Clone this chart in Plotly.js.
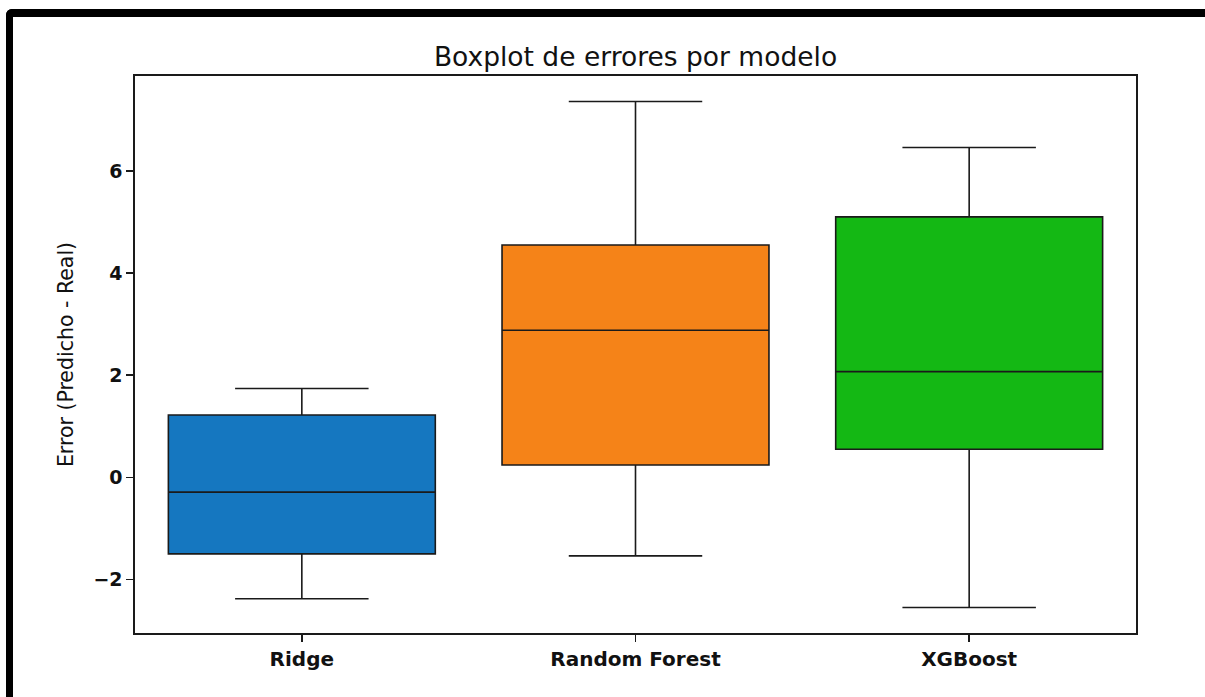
<!DOCTYPE html>
<html>
<head>
<meta charset="utf-8">
<script src="https://cdn.plot.ly/plotly-3.0.1.min.js"></script>
<style>
  html, body { margin: 0; padding: 0; background: #ffffff; }
  #wrap { position: relative; width: 1205px; height: 697px; overflow: hidden; }
  #chart { position: absolute; left: 0; top: 0; width: 1205px; height: 697px; }
  #frame { position: absolute; left: 6px; top: 9px; width: 1400px; height: 900px;
           border-top: 8px solid #000; border-left: 7px solid #000;
           border-top-left-radius: 6px; pointer-events: none; }
</style>
</head>
<body>
<div id="wrap">
  <div id="chart"></div>
  <div id="frame"></div>
</div>
<script>
// Data
const models      = ["Ridge", "Random Forest", "XGBoost"];
const lowerFences = [-2.38, -1.54, -2.55];
const q1Values    = [-1.50,  0.24,  0.55];
const medians     = [-0.29,  2.88,  2.07];
const q3Values    = [ 1.22,  4.55,  5.10];
const upperFences = [ 1.74,  7.36,  6.46];
const boxColors   = ["#1577c0", "#f58318", "#14b814"];
const yTicks      = [-2, 0, 2, 4, 6];
const yTickText   = ["\u22122", "0", "2", "4", "6"];

const traces = models.map((m, i) => ({
  type: "box",
  name: m,
  x: [m],
  q1: [q1Values[i]],
  median: [medians[i]],
  q3: [q3Values[i]],
  lowerfence: [lowerFences[i]],
  upperfence: [upperFences[i]],
  fillcolor: boxColors[i],
  line: { color: "#1a1a1a", width: 1.6 },
  width: 0.8,
  whiskerwidth: 0.5,
  boxpoints: false,
  hoverinfo: "skip",
  showlegend: false
}));

const layout = {
  width: 1205,
  height: 697,
  margin: { l: 135, r: 69, t: 76, b: 64 },
  paper_bgcolor: "#ffffff",
  plot_bgcolor: "#ffffff",
  boxmode: "overlay",
  font: { family: "DejaVu Sans, sans-serif", color: "#000000" },
  title: {
    text: "Boxplot de errores por modelo",
    font: { family: "DejaVu Sans, sans-serif", size: 26.5, color: "#111111" },
    x: 0.5, xanchor: "center", xref: "paper",
    y: 0.918, yref: "container", yanchor: "middle"
  },
  xaxis: {
    type: "category",
    categoryorder: "array",
    categoryarray: models,
    range: [-0.5, 2.5],
    showline: true, mirror: true, linecolor: "#1a1a1a", linewidth: 1.6,
    ticks: "outside", ticklen: 7, tickwidth: 1.5, tickcolor: "#1a1a1a",
    tickfont: { family: "DejaVu Sans, sans-serif", size: 20, color: "#111111", weight: "bold" },
    showgrid: false, zeroline: false, fixedrange: true
  },
  yaxis: {
    range: [-3.05, 7.86],
    tickvals: yTicks,
    ticktext: yTickText,
    showline: true, mirror: true, linecolor: "#1a1a1a", linewidth: 1.6,
    ticks: "outside", ticklen: 7, tickwidth: 1.5, tickcolor: "#1a1a1a",
    tickfont: { family: "DejaVu Sans, sans-serif", size: 19, color: "#111111", weight: "bold" },
    showgrid: false, zeroline: false, fixedrange: true,
    title: {
      text: "Error (Predicho - Real)",
      font: { family: "DejaVu Sans, sans-serif", size: 20.5, color: "#111111" },
      standoff: 14
    }
  }
};

Plotly.newPlot("chart", traces, layout, { displayModeBar: false, staticPlot: true });
</script>
</body>
</html>
